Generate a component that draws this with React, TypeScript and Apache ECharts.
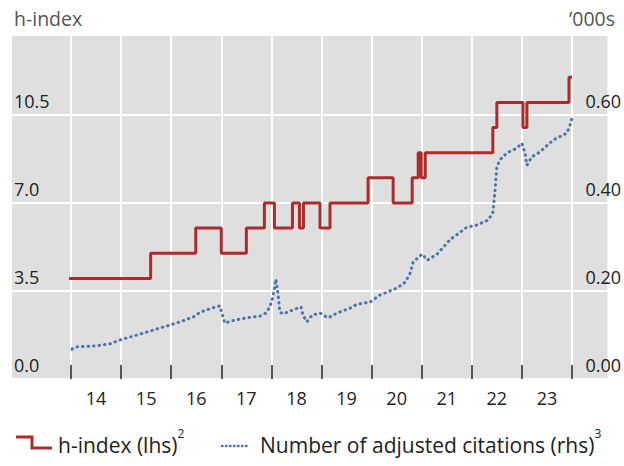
import React, { useEffect, useRef } from 'react';
import * as echarts from 'echarts';

const yearLabels = ['14', '15', '16', '17', '18', '19', '20', '21', '22', '23'];

// h-index: change dates (decimal years) and new value from that date
const hIndexDates = [2013.92, 2015.59, 2016.49, 2017.0, 2017.5, 2017.86, 2018.06, 2018.42, 2018.56, 2018.64, 2018.97, 2019.17, 2019.93, 2020.43, 2020.81, 2020.93, 2020.99, 2021.07, 2022.42, 2022.5, 2023.02, 2023.1, 2023.94, 2024.0];
const hIndexValues = [4, 5, 6, 5, 6, 7, 6, 7, 6, 7, 6, 7, 8, 7, 8, 9, 8, 9, 10, 11, 10, 11, 12, 12];

// adjusted citations, thousands
const citationDates = [2014.02, 2014.12, 2014.48, 2014.78, 2014.98, 2015.38, 2015.78, 2016.18, 2016.44, 2016.58, 2016.81, 2016.97, 2017.07, 2017.27, 2017.51, 2017.77, 2017.89, 2017.97, 2018.03, 2018.09, 2018.13, 2018.17, 2018.23, 2018.43, 2018.59, 2018.63, 2018.71, 2018.81, 2018.97, 2019.13, 2019.31, 2019.57, 2019.71, 2019.97, 2020.17, 2020.51, 2020.67, 2020.77, 2020.83, 2021.01, 2021.11, 2021.31, 2021.56, 2021.9, 2022.1, 2022.32, 2022.42, 2022.46, 2022.5, 2022.56, 2022.7, 2022.9, 2023.0, 2023.06, 2023.1, 2023.2, 2023.36, 2023.62, 2023.9, 2023.96, 2024.02];
const citationValues = [0.068, 0.073, 0.075, 0.08, 0.089, 0.102, 0.116, 0.13, 0.141, 0.152, 0.161, 0.166, 0.127, 0.134, 0.139, 0.143, 0.15, 0.164, 0.186, 0.227, 0.195, 0.152, 0.148, 0.157, 0.164, 0.145, 0.13, 0.145, 0.15, 0.139, 0.15, 0.161, 0.17, 0.175, 0.191, 0.207, 0.22, 0.241, 0.266, 0.284, 0.27, 0.284, 0.316, 0.345, 0.35, 0.361, 0.377, 0.423, 0.482, 0.498, 0.514, 0.525, 0.536, 0.514, 0.486, 0.505, 0.516, 0.543, 0.559, 0.577, 0.6];

const leftMax = 13.68;
const rightMax = 0.782;

export default function App() {
  const ref = useRef<HTMLDivElement>(null);
  useEffect(() => {
    const chart = echarts.init(ref.current as HTMLDivElement, null, { renderer: 'svg' });
    const font = 'Open Sans';
    const red = '#ad2b2b';
    const blue = '#4d74ad';
    const option = {
      animation: false,
      backgroundColor: '#ffffff',
      textStyle: { fontFamily: font },
      grid: [
        { left: 12, right: 7, top: 35, bottom: 87, show: true, backgroundColor: '#dfdfdf', borderWidth: 0 },
        { left: 71, right: 52, top: 35, bottom: 87 },
      ],
      xAxis: [
        { gridIndex: 0, type: 'value', show: false, min: 0, max: 1 },
        {
          gridIndex: 1,
          type: 'category',
          data: yearLabels,
          boundaryGap: true,
          axisLine: { show: false },
          axisTick: { show: true, inside: true, length: 14, lineStyle: { color: '#555', width: 2 } },
          splitLine: { show: true, lineStyle: { color: '#ffffff', width: 2 } },
          axisLabel: { color: '#222', fontSize: 18, margin: 10, fontFamily: font },
        },
        { gridIndex: 1, type: 'value', show: false, min: 2014, max: 2024 },
      ],
      yAxis: [
        {
          gridIndex: 0,
          type: 'value',
          min: 0,
          max: leftMax,
          interval: 3.5,
          axisLine: { show: false },
          axisTick: { show: false },
          splitLine: { show: true, lineStyle: { color: '#ffffff', width: 2 } },
          axisLabel: {
            inside: true,
            margin: 2,
            color: '#222',
            fontSize: 18,
            fontFamily: font,
            verticalAlign: 'bottom',
            padding: [0, 0, 5, 0],
            formatter: (v: number) => (v > 10.6 ? '' : v.toFixed(1)),
          },
        },
        {
          gridIndex: 0,
          type: 'value',
          position: 'right',
          min: 0,
          max: rightMax,
          interval: 0.2,
          axisLine: { show: false },
          axisTick: { show: false },
          splitLine: { show: false },
          axisLabel: {
            inside: false,
            margin: -22,
            align: 'left',
            color: '#222',
            fontSize: 18,
            fontFamily: font,
            verticalAlign: 'bottom',
            padding: [0, 0, 5, 0],
            formatter: (v: number) => (v > 0.61 ? '' : v.toFixed(2)),
          },
        },
        { gridIndex: 1, type: 'value', show: false, min: 0, max: leftMax },
        { gridIndex: 1, type: 'value', show: false, min: 0, max: rightMax, position: 'right' },
      ],
      series: [
        {
          name: 'Number of adjusted citations (rhs)',
          type: 'line',
          xAxisIndex: 2,
          yAxisIndex: 3,
          data: citationDates.map((d, i) => [d, citationValues[i]]),
          symbol: 'none',
          clip: false,
          lineStyle: { color: blue, width: 3, type: [0.5, 5], cap: 'round' },
          z: 3,
        },
        {
          name: 'h-index (lhs)',
          type: 'line',
          xAxisIndex: 2,
          yAxisIndex: 2,
          step: 'end',
          data: hIndexDates.map((d, i) => [d, hIndexValues[i]]),
          symbol: 'none',
          clip: false,
          lineStyle: { color: red, width: 3 },
          z: 4,
        },
      ],
      graphic: [
        { type: 'text', left: 14, top: 8, style: { text: 'h-index', fontSize: 19.5, fill: '#555', fontFamily: font } },
        { type: 'text', right: 9, top: 8, style: { text: '\u2019000s', fontSize: 19.5, fill: '#555', fontFamily: font } },
        {
          type: 'polyline',
          shape: { points: [[16, 437], [32, 437], [32, 448], [52, 448]] },
          style: { stroke: red, lineWidth: 3, fill: null },
        },
        {
          type: 'text',
          left: 58,
          top: 427,
          style: {
            text: '{a|h-index (lhs)}{s|2}',
            rich: {
              a: { fontSize: 21, fontFamily: font, fill: '#222', lineHeight: 28, verticalAlign: 'bottom' },
              s: { fontSize: 12, fontFamily: font, fill: '#222', lineHeight: 12, verticalAlign: 'top' },
            },
          },
        },
        {
          type: 'line',
          shape: { x1: 222, y1: 446, x2: 250, y2: 446 },
          style: { stroke: blue, lineWidth: 2.5, lineDash: [0.5, 3.5], lineCap: 'round' },
        },
        {
          type: 'text',
          left: 260,
          top: 427,
          style: {
            text: '{a|Number of adjusted citations (rhs)}{s|3}',
            rich: {
              a: { fontSize: 21, fontFamily: font, fill: '#222', lineHeight: 28, verticalAlign: 'bottom' },
              s: { fontSize: 12, fontFamily: font, fill: '#222', lineHeight: 12, verticalAlign: 'top' },
            },
          },
        },
      ],
    };
    chart.setOption(option as any);
    return () => {
      chart.dispose();
    };
  }, []);
  return (
    <div
      ref={ref}
      style={{ position: 'absolute', left: 0, top: 0, width: 624, height: 466, background: '#fff' }}
    />
  );
}
